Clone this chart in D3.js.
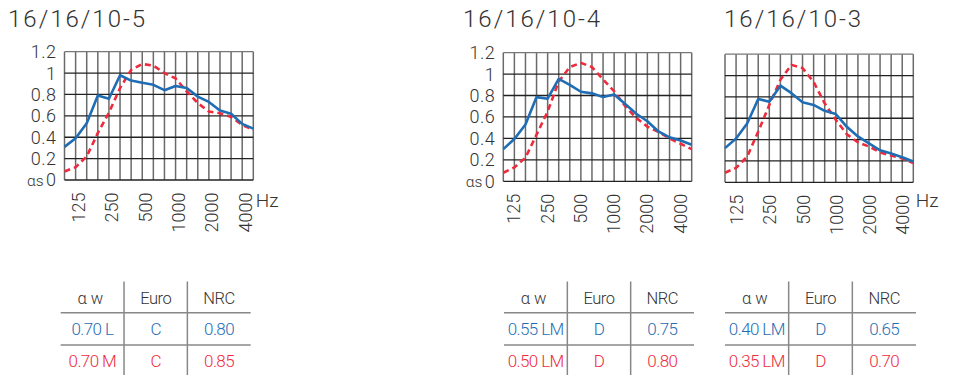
<!DOCTYPE html>
<html>
<head>
<meta charset="utf-8">
<script src="https://cdn.jsdelivr.net/npm/d3@7"></script>
<style>
  html, body { margin: 0; padding: 0; background: #fff; }
  svg { display: block; font-family: Roboto, "Open Sans", sans-serif; }
</style>
</head>
<body>
<svg id="chart" width="966" height="375"></svg>
<script>
// Third-octave band centre frequencies (Hz)
const bands = [100, 125, 160, 200, 250, 315, 400, 500, 630, 800, 1000, 1250, 1600, 2000, 2500, 3150, 4000, 5000];
const bandTickLabels = ["125", "250", "500", "1000", "2000", "4000"];
const yTickValues = [0, 0.2, 0.4, 0.6, 0.8, 1, 1.2];
const yTickLabels = ["0", "0.2", "0.4", "0.6", "0.8", "1", "1.2"];
const panelTitles = ["16/16/10-5", "16/16/10-4", "16/16/10-3"];

// Sound absorption coefficient per band
const blue105 = [0.31, 0.39, 0.53, 0.79, 0.76, 0.98, 0.93, 0.91, 0.89, 0.84, 0.88, 0.86, 0.78, 0.73, 0.65, 0.62, 0.525, 0.48];
const red105  = [0.08, 0.12, 0.22, 0.44, 0.63, 0.86, 1.03, 1.085, 1.07, 1.0, 0.95, 0.83, 0.72, 0.64, 0.625, 0.59, 0.515, 0.47];
const blue104 = [0.30, 0.395, 0.53, 0.785, 0.77, 0.955, 0.90, 0.835, 0.82, 0.785, 0.81, 0.72, 0.63, 0.56, 0.465, 0.41, 0.38, 0.34];
const red104  = [0.08, 0.13, 0.22, 0.435, 0.65, 0.93, 1.065, 1.105, 1.065, 0.95, 0.84, 0.70, 0.59, 0.51, 0.46, 0.40, 0.35, 0.30];
const blue103 = [0.32, 0.41, 0.55, 0.78, 0.755, 0.905, 0.835, 0.75, 0.725, 0.67, 0.64, 0.52, 0.43, 0.365, 0.30, 0.27, 0.235, 0.195];
const red103  = [0.09, 0.135, 0.24, 0.475, 0.725, 0.96, 1.10, 1.07, 0.94, 0.74, 0.585, 0.45, 0.375, 0.335, 0.28, 0.25, 0.225, 0.18];

// Rating tables
const tableHeader = ["\u03b1w", "Euro", "NRC"];
const table105 = [["0.70 L", "C", "0.80"], ["0.70 M", "C", "0.85"]];
const table104 = [["0.55 LM", "D", "0.75"], ["0.50 LM", "D", "0.80"]];
const table103 = [["0.40 LM", "D", "0.65"], ["0.35 LM", "D", "0.70"]];

const BLUE = "#1f6db4";
const RED = "#ee2b3d";
const TEXT = "#333";

const svg = d3.select("#chart");

const panels = [
  { title: panelTitles[0], titleX: 8,   left: 64.5,  right: 253.3, top: 51.7, bottom: 180,   yAxis: true,  hz: true,  labelShift: 3,
    blue: blue105, red: red105, table: table105, tLeft: 60.7, tRight: 250.7 },
  { title: panelTitles[1], titleX: 463, left: 503.3, right: 691.7, top: 52.6, bottom: 181.3, yAxis: true,  hz: false, labelShift: -0.5,
    blue: blue104, red: red104, table: table104, tLeft: 504, tRight: 694 },
  { title: panelTitles[2], titleX: 724, left: 725,   right: 913.3, top: 54.2, bottom: 182.3, yAxis: false, hz: true,  labelShift: 0.5,
    blue: blue103, red: red103, table: table103, tLeft: 725, tRight: 916 }
];

panels.forEach(p => {
  const g = svg.append("g");
  const x = d3.scalePoint().domain(bands).range([p.left, p.right]);
  const y = d3.scaleLinear().domain([0, 1.2]).range([p.bottom, p.top]);

  // Title
  g.append("text")
    .attr("x", p.titleX).attr("y", 26.5)
    .attr("font-size", 24).attr("font-weight", 300)
    .attr("letter-spacing", 2)
    .attr("fill", TEXT)
    .text(p.title);

  // Vertical grid lines, one per band
  g.append("g").selectAll("line").data(bands).join("line")
    .attr("x1", d => x(d)).attr("x2", d => x(d))
    .attr("y1", y(1.2)).attr("y2", y(0))
    .attr("stroke", "#6a6a6a").attr("stroke-width", 1.5);

  // Horizontal grid lines
  g.append("g").selectAll("line").data(yTickValues).join("line")
    .attr("x1", p.left).attr("x2", p.right)
    .attr("y1", d => y(d)).attr("y2", d => y(d))
    .attr("stroke", d => d === 1.2 ? "#777" : "#222").attr("stroke-width", 1.3);

  // Y axis labels
  if (p.yAxis) {
    const ly = g.append("g");
    yTickValues.forEach((v, i) => {
      ly.append("text")
        .attr("x", p.left - 8).attr("y", y(v))
        .attr("dy", "0.36em")
        .attr("text-anchor", "end")
        .attr("font-size", 18).attr("font-weight", 300)
        .attr("letter-spacing", 0.5)
        .attr("fill", TEXT)
        .text(yTickLabels[i]);
    });
    ly.append("text")
      .attr("x", p.left - 21).attr("y", y(0))
      .attr("dy", "0.36em")
      .attr("text-anchor", "end")
      .attr("font-size", 15.5).attr("font-weight", 300)
      .attr("fill", TEXT)
      .text("\u03b1s");
  }

  // X axis labels (rotated)
  g.append("g").selectAll("text").data(bandTickLabels).join("text")
    .attr("transform", d => `translate(${x(+d) + p.labelShift},${p.bottom + 12.5}) rotate(-90)`)
    .attr("dy", "0.36em")
    .attr("text-anchor", "end")
    .attr("font-size", 18).attr("font-weight", 300)
    .attr("fill", TEXT)
    .text(d => d);

  if (p.hz) {
    g.append("text")
      .attr("x", p.right + 2.5).attr("y", 207)
      .attr("font-size", 19).attr("font-weight", 300)
      .attr("fill", TEXT)
      .text("Hz");
  }

  // Curves
  const line = d3.line().x((d, i) => x(bands[i])).y(d => y(d));
  g.append("path").datum(p.red)
    .attr("d", line).attr("fill", "none")
    .attr("stroke", RED).attr("stroke-width", 2.6)
    .attr("stroke-dasharray", "6,4");
  g.append("path").datum(p.blue)
    .attr("d", line).attr("fill", "none")
    .attr("stroke", BLUE).attr("stroke-width", 2.6)
    .attr("stroke-linejoin", "round");

  // Rating table
  const colW = (p.tRight - p.tLeft) / 3;
  const cx = i => p.tLeft + colW * (i + 0.5);
  const t = g.append("g");
  [1, 2].forEach(i => {
    t.append("line")
      .attr("x1", p.tLeft + colW * i).attr("x2", p.tLeft + colW * i)
      .attr("y1", 281.5).attr("y2", 375)
      .attr("stroke", "#888").attr("stroke-width", 1.5);
  });
  [312.7, 345].forEach(yy => {
    t.append("line")
      .attr("x1", p.tLeft).attr("x2", p.tRight)
      .attr("y1", yy).attr("y2", yy)
      .attr("stroke", "#888").attr("stroke-width", 1.5);
  });
  tableHeader.forEach((h, i) => {
    t.append("text")
      .attr("x", cx(i)).attr("y", 304)
      .attr("text-anchor", "middle")
      .attr("font-size", 16.5).attr("font-weight", 300)
      .attr("letter-spacing", i === 0 ? 4 : -0.5)
      .attr("fill", TEXT)
      .text(h);
  });
  p.table.forEach((row, r) => {
    row.forEach((cell, i) => {
      t.append("text")
        .attr("x", cx(i)).attr("y", 335 + r * 32.3)
        .attr("text-anchor", "middle")
        .attr("font-size", 17).attr("font-weight", 300)
        .attr("letter-spacing", -0.6)
        .attr("fill", r === 0 ? BLUE : RED)
        .text(cell);
    });
  });
});
</script>
</body>
</html>
